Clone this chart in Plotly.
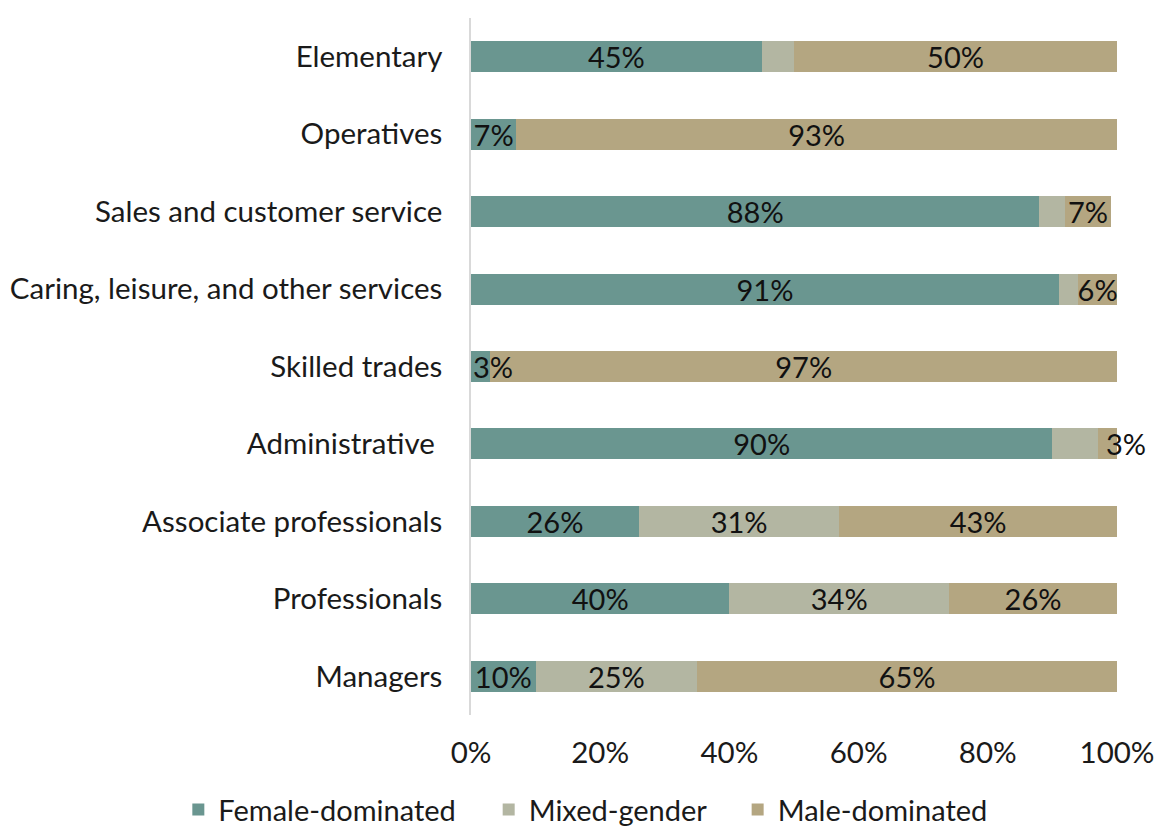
import plotly.graph_objects as go

# Occupational groups, bottom to top as drawn on the y axis
categories = [
    "Managers",
    "Professionals",
    "Associate professionals",
    "Administrative ",
    "Skilled trades",
    "Caring, leisure, and other services",
    "Sales and customer service",
    "Operatives",
    "Elementary",
]

# Share of employment (%) in each type of occupation
female_dominated = [10, 40, 26, 90, 3, 91, 88, 7, 45]
mixed_gender = [25, 34, 31, 7, 0, 3, 4, 0, 5]
male_dominated = [65, 26, 43, 3, 97, 6, 7, 93, 50]

x_ticks = [0, 20, 40, 60, 80, 100]

# name, values, colour, smallest value that gets an in-bar label, legend id, legend x (container)
series = [
    ("Female-dominated", female_dominated, "#6a9690", 5, "legend", 0.154),
    ("Mixed-gender", mixed_gender, "#b3b6a2", 10, "legend2", 0.422),
    ("Male-dominated", male_dominated, "#b4a681", 5, "legend3", 0.637),
]

FONT = "Lato, 'Open Sans', sans-serif"
FS = 29
AXIS_FS = 29.5
INK = "#1a1a1a"

fig = go.Figure()
legends = {}
annotations = []
offset = [0] * len(categories)
for name, values, color, min_label, legend_id, legend_x in series:
    fig.add_trace(
        go.Bar(
            y=categories,
            x=values,
            name=name,
            orientation="h",
            legend=legend_id,
            marker=dict(color=color, line=dict(width=0)),
            text=[f"{v}%" if v >= min_label else "" for v in values],
            textposition="inside",
            insidetextanchor="middle",
            textangle=0,
            constraintext="none",
            textfont=dict(family=FONT, size=FS, color="#111111"),
            cliponaxis=False,
        )
    )
    # Small labelled segments: label starts just inside the segment and runs over
    if min_label < 10:
        for i, v in enumerate(values):
            if 0 < v < min_label:
                annotations.append(
                    dict(
                        x=offset[i],
                        y=categories[i],
                        xref="x",
                        yref="y",
                        text=f"{v}%",
                        showarrow=False,
                        xanchor="left",
                        yanchor="middle",
                        xshift=0 if offset[i] == 0 else 6,
                        font=dict(family=FONT, size=FS, color="#111111"),
                    )
                )
    offset = [o + v for o, v in zip(offset, values)]
    legends[legend_id] = dict(
        orientation="h",
        xref="container",
        yref="container",
        x=legend_x,
        xanchor="left",
        y=0.021,
        yanchor="middle",
        font=dict(family=FONT, size=FS, color=INK),
        bgcolor="rgba(0,0,0,0)",
        itemwidth=30,
    )

fig.update_layout(
    barmode="stack",
    bargap=0.6,
    width=1158,
    height=827,
    margin=dict(l=471, r=41, t=18, b=112, autoexpand=False),
    paper_bgcolor="white",
    plot_bgcolor="white",
    font=dict(family=FONT, size=FS, color=INK),
    showlegend=True,
    annotations=annotations,
    xaxis=dict(
        range=[0, 100],
        tickvals=x_ticks,
        ticktext=[f"{t}%" for t in x_ticks],
        showgrid=False,
        zeroline=False,
        showline=False,
        ticks="",
        ticklabelstandoff=17,
        tickfont=dict(family=FONT, size=AXIS_FS, color=INK),
    ),
    yaxis=dict(
        categoryorder="array",
        categoryarray=categories,
        showgrid=False,
        zeroline=False,
        showline=True,
        linecolor="#d9d9d9",
        linewidth=1.5,
        ticks="",
        ticklabelstandoff=21,
        tickfont=dict(family=FONT, size=AXIS_FS, color=INK),
    ),
    **legends,
)

fig.write_html("out.html")
